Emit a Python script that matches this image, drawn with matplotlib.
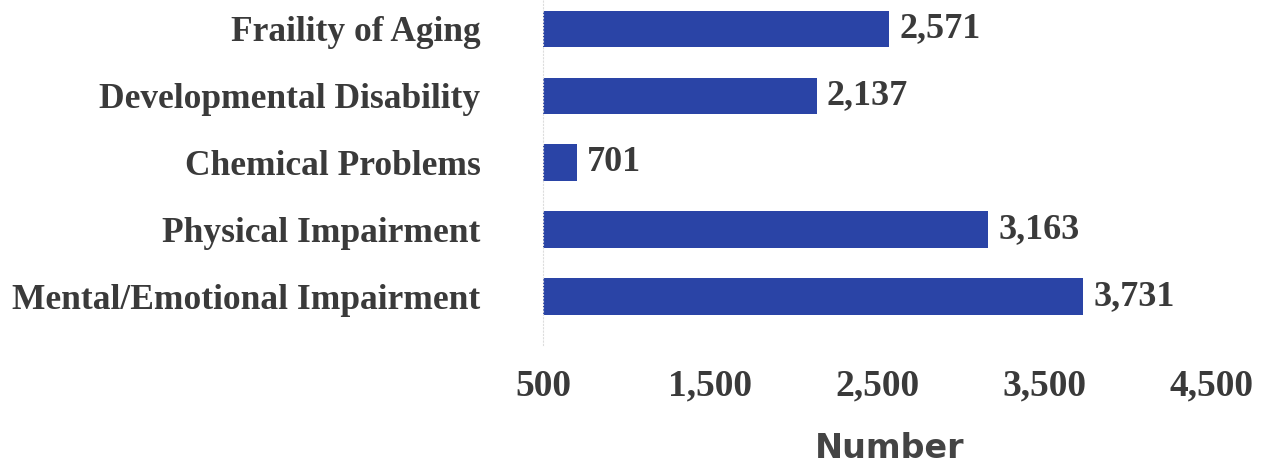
import matplotlib
matplotlib.use("Agg")
import matplotlib.pyplot as plt

categories = ["Mental/Emotional Impairment", "Physical Impairment", "Chemical Problems",
              "Developmental Disability", "Fraility of Aging"]
values = [3731, 3163, 701, 2137, 2571]
xticks = [500, 1500, 2500, 3500, 4500]
xtick_labels = ["500", "1,500", "2,500", "3,500", "4,500"]

bar_color = "#2a44a6"
text_color = "#3a3a3a"
serif = ["Liberation Serif", "DejaVu Serif"]

fig = plt.figure(figsize=(12.69, 4.68), dpi=100)
ax = fig.add_axes([543/1269, (468-345)/468, (1212-543)/1269, 345/468])

ypos = list(range(len(categories)))
ax.barh(ypos, [v - 500 for v in values], left=500, height=0.55, color=bar_color)
for y, v in zip(ypos, values):
    ax.text(v + 60, y, f"{v:,}", va="center", ha="left", fontsize=26,
            fontweight="bold", family=serif, color=text_color)

ax.set_xlim(500, 4500)
ax.set_ylim(-0.72, 4 + 29/67)
ax.set_xticks(xticks)
ax.set_xticklabels(xtick_labels, fontsize=27, fontweight="bold", family=serif, color=text_color)
ax.set_yticks(ypos)
ax.set_yticklabels(categories, fontsize=25.5, fontweight="bold", family=serif, color=text_color)
ax.tick_params(axis="x", length=0, pad=17)
ax.tick_params(axis="y", length=0, pad=45)
for s in ["top", "right", "bottom"]:
    ax.spines[s].set_visible(False)
ax.spines["left"].set_color("#dddddd")
ax.spines["left"].set_linestyle((0, (1, 2)))
ax.spines["left"].set_linewidth(0.8)

fig.text(890/1269, 1 - 449/468, "Number", ha="center", va="center", fontsize=24,
         fontweight="bold", family=["DejaVu Sans"], color="#444444")

fig.savefig("out.png", dpi=100)
